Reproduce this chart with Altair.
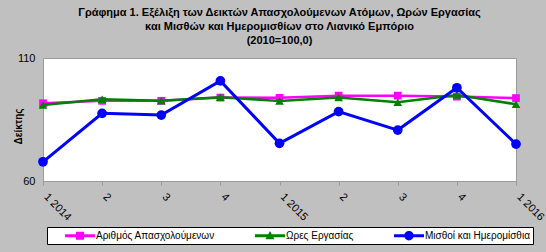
import json
import altair as alt
import pandas as pd

quarters = ["1 2014", "2", "3", "4", "1 2015", "2", "3", "4", "1 2016"]
employed = [91.6, 92.6, 92.6, 93.9, 93.8, 94.7, 94.7, 94.3, 93.7]
hours = [90.9, 93.2, 92.6, 94.0, 92.5, 93.9, 92.0, 95.0, 91.2]
wages = [67.8, 87.5, 86.8, 100.7, 75.3, 88.2, 80.7, 97.9, 75.0]

series_names = ["Αριθμός Απασχολούμενων", "Ωρες Εργασίας", "Μισθοί και Ημερομίσθια"]
series_colors = ["#FF00FF", "#008000", "#0000FF"]
series_shapes = ["square", "triangle-up", "circle"]
series_sizes = [60, 75, 95]
series_values = [employed, hours, wages]

# legend symbols: line with marker (units of 5.5 px, drawn right of the symbol box)
legend_paths = [
    "M1.73,-0.27L7.18,-0.27L7.18,0.27L1.73,0.27Z M3.72,-0.73L5.18,-0.73L5.18,0.73L3.72,0.73Z",
    "M1.73,-0.27L7.18,-0.27L7.18,0.27L1.73,0.27Z M4.45,-0.85L5.27,0.65L3.63,0.65Z",
    "M1.73,-0.27L7.18,-0.27L7.18,0.27L1.73,0.27Z M3.6,0A0.85,0.85 0 1,1 5.3,0A0.85,0.85 0 1,1 3.6,0Z",
]

FONT = "Liberation Sans"
label_expr = json.dumps(quarters) + "[datum.value]"

x_enc = alt.X(
    "i:Q",
    scale=alt.Scale(domain=[0, len(quarters) - 1], nice=False, zero=False),
    axis=alt.Axis(
        values=list(range(len(quarters))),
        labelExpr=label_expr,
        labelAngle=45,
        labelAlign="left",
        labelBaseline="middle",
        labelPadding=10,
        labelOffset=2,
        labelFontSize=11,
        labelFont=FONT,
        labelColor="#000000",
        tickColor="#9a9a9a",
        tickSize=4,
        domainColor="#9a9a9a",
        grid=False,
        title=None,
    ),
)
y_enc = alt.Y(
    "v:Q",
    scale=alt.Scale(domain=[60, 110], nice=False, zero=False),
    axis=alt.Axis(
        values=[60, 110],
        labelFontSize=11,
        labelFont=FONT,
        labelColor="#000000",
        labelPadding=8,
        ticks=False,
        domain=False,
        grid=False,
        title="Δείκτης",
        titleFont=FONT,
        titleFontSize=10,
        titleFontWeight="bold",
        titleColor="#000000",
        titleX=-25,
        titleY=68,
        titleAngle=-90,
        titleAlign="center",
        titleBaseline="middle",
    ),
)

layers = []
for name, color, shape, size, vals in zip(series_names, series_colors, series_shapes, series_sizes, series_values):
    df = pd.DataFrame({"i": list(range(len(quarters))), "v": vals})
    base = alt.Chart(df).encode(x=x_enc, y=y_enc)
    layers.append(base.mark_line(color=color, strokeWidth=3 if color == "#0000FF" else 2.5))
    layers.append(base.mark_point(shape=shape, size=size, filled=True, color=color, opacity=1))

legend_df = pd.DataFrame({"i": [0, 0, 0], "v": [80, 80, 80], "s": series_names})
legend_layer = (
    alt.Chart(legend_df)
    .transform_filter("false")
    .mark_point(filled=True, size=121, opacity=1)
    .encode(
        x=alt.X("i:Q"),
        y=alt.Y("v:Q"),
        color=alt.Color(
            "s:N",
            scale=alt.Scale(domain=series_names, range=series_colors),
            legend=alt.Legend(
                orient="none",
                legendX=4,
                legendY=169,
                direction="horizontal",
                title=None,
                strokeColor="#000000",
                fillColor="#FFFFFF",
                padding=3,
                labelFont=FONT,
                labelFontSize=10,
                labelColor="#000000",
                labelLimit=300,
                labelOffset=35,
                columnPadding=25,
                symbolSize=121,
                symbolStrokeWidth=0,
            ),
        ),
        shape=alt.Shape("s:N", scale=alt.Scale(domain=series_names, range=legend_paths)),
    )
)

chart = (
    alt.layer(*layers, legend_layer)
    .properties(
        width=473,
        height=123,
        title=alt.TitleParams(
            text=[
                "Γράφημα 1. Εξέλιξη των Δεικτών Απασχολούμενων Ατόμων, Ωρών Εργασίας",
                "και Μισθών και Ημερομισθίων στο Λιανικό Εμπόριο",
                "(2010=100,0)",
            ],
            font=FONT,
            fontSize=11,
            fontWeight="bold",
            color="#000000",
            anchor="middle",
            lineHeight=14,
            offset=6,
        ),
        autosize=alt.AutoSizeParams(type="none"),
        padding={"left": 43, "top": 58, "right": 30, "bottom": 71},
        background="#C0C0C0",
    )
    .configure_view(fill="#FFFFFF", stroke="#9a9a9a", strokeWidth=1)
)

chart.save("out.html", embed_options={"renderer": "svg", "actions": False})
